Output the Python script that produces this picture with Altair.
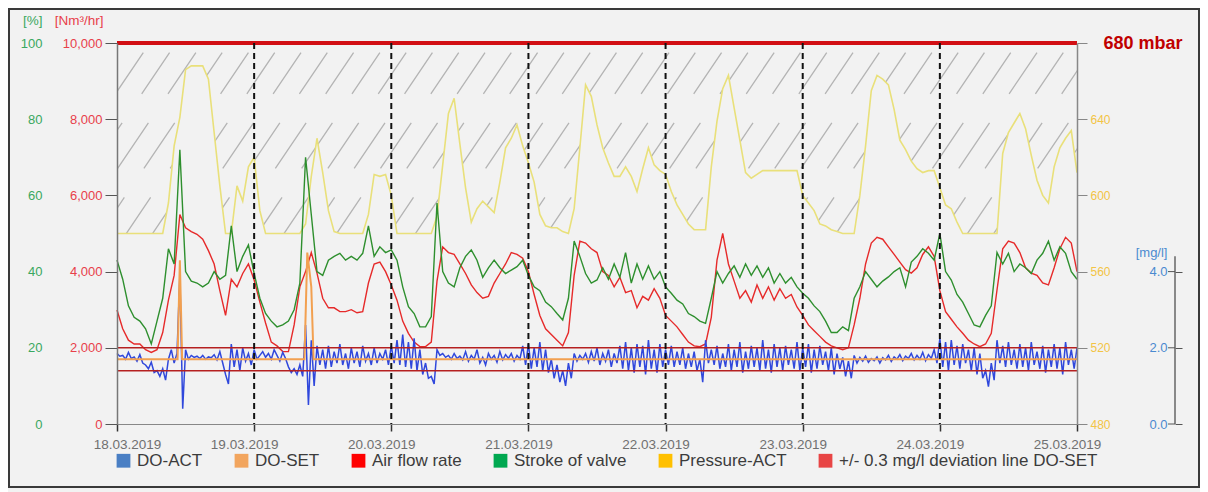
import altair as alt
import pandas as pd

BG = "#f2f2f2"
START = pd.Timestamp("2019-03-18T00:00:00")

# ---------------- data ----------------
# hourly samples 18.03.2019 00:00 ... 25.03.2019 00:00
pressure_mbar = [
    580, 580, 580, 580, 580, 580, 580, 580, 580, 596, 626, 641, 666, 668, 668, 668, 661, 633, 605, 580, 580, 605, 597, 615,
    620, 592, 580, 580, 580, 580, 580, 580, 580, 585, 610, 630, 612, 592, 581, 580, 580, 580, 580, 580, 590, 611, 610, 611,
    600, 580, 580, 580, 580, 580, 580, 580, 589, 616, 643, 651, 627, 604, 586, 593, 597, 594, 591, 607, 625, 630, 637, 626,
    617, 607, 590, 584, 583, 583, 581, 580, 593, 625, 658, 652, 637, 625, 617, 610, 610, 615, 610, 602, 614, 625, 616, 613,
    611, 602, 595, 590, 585, 582, 582, 582, 615, 639, 656, 663, 646, 629, 612, 609, 611, 613, 613, 613, 613, 613, 613, 613,
    600, 596, 592, 585, 584, 582, 581, 580, 580, 580, 600, 626, 655, 663, 661, 658, 645, 629, 624, 618, 614, 612, 613, 613,
    604, 595, 593, 586, 580, 580, 580, 580, 580, 580, 580, 622, 633, 638, 643, 635, 621, 608, 600, 596, 615, 625, 630, 634, 612,
]
air_flow = [
    2993, 2500, 2200, 2100, 2100, 1950, 1880, 1950, 2400, 3250, 3900, 5500, 5150, 5050, 4980, 4850, 4550, 4200, 3500, 2850, 3800, 3600, 3950, 4200,
    3780, 3200, 2650, 2150, 2050, 1900, 1900, 2600, 3600, 4000, 4500, 3960, 3300, 3050, 3050, 2950, 2950, 3000, 2920, 2950, 3700, 4200, 4250, 4000,
    3650, 3250, 2700, 2380, 2150, 2030, 2030, 2150, 3750, 4650, 4500, 4450, 4200, 3950, 3650, 3450, 3300, 3350, 3700, 3950, 4200, 4500, 4450, 4350,
    4000, 3400, 2850, 2500, 2350, 2200, 2050, 2400, 3900, 4800, 4750, 4600, 4500, 4000, 3900, 3600, 3850, 3450, 3500, 3050, 3350, 3250, 3550, 3300,
    2850, 2700, 2550, 2350, 2150, 2050, 2030, 2100, 2800, 4300, 5000, 4200, 3750, 3300, 3500, 3200, 3650, 3300, 3600, 3250, 3550, 3300, 3400, 3071,
    2850, 2600, 2450, 2300, 2150, 2050, 2000, 1950, 2000, 2600, 3300, 4200, 4750, 4900, 4850, 4650, 4450, 4250, 4050, 3960, 4100, 4450, 4650, 4400,
    3500, 2950, 2750, 2550, 2380, 2200, 2100, 2030, 2100, 2380, 3517, 4600, 4800, 4750, 4500, 4100, 3960, 3900, 3700, 3650, 4100, 4600, 4900, 4750, 4000,
]
valve_stroke = [
    43, 38, 31, 28, 27, 25, 21, 27, 33, 46, 42, 72, 40, 37.5, 37, 36, 37, 40, 38, 39, 52, 40, 44, 47,
    39.5, 33, 29, 27, 25.5, 26, 27, 30, 37, 70, 55, 40, 39, 43, 44, 44.8, 43, 44, 43, 44.8, 52, 44, 46.5, 45,
    45.7, 43, 36, 30.8, 29, 25.5, 25.5, 28.2, 58, 40, 37, 36, 41, 44, 45.7, 43, 38.5, 41, 43, 41, 39.5, 40.4, 41.3, 43,
    39, 36, 35, 32, 30.8, 29, 27.3, 33, 48, 44, 39.5, 37, 37.8, 41, 38, 42, 38.5, 45, 37, 42, 38, 41.5, 38, 40,
    36, 34.3, 32.5, 31.5, 29, 28.2, 27, 26.4, 33, 40, 37, 39.5, 41.5, 38.5, 42, 39, 41.5, 38.5, 41, 37, 39.5, 37, 38.5, 36,
    34.3, 33, 31, 29.5, 27, 24, 24, 25.5, 24.5, 33, 36, 40, 38, 36, 37.5, 38.6, 40, 41, 36, 42.5, 44, 46, 44.8, 43,
    50, 40, 37.8, 34, 32, 29, 26, 25.5, 28.5, 31, 45, 42, 44.8, 40, 42, 41, 39.5, 43, 44.8, 48, 43, 46.5, 44.8, 40, 38,
]
# half-hourly DO-ACT [mg/l]
do_act = [
    1.85, 1.78, 1.80, 1.70, 1.88, 1.72, 1.76, 1.65, 1.82, 1.60, 1.55, 1.45,
    1.62, 1.35, 1.40, 1.25, 1.45, 1.15, 1.70, 1.95, 1.60, 1.85, 3.90, 0.40,
    1.95, 1.70, 1.80, 1.75, 1.78, 1.72, 1.80, 1.70, 1.76, 1.74, 1.82, 1.68,
    1.90, 1.60, 1.30, 1.05, 2.10, 1.50, 1.95, 1.40, 2.00, 1.65, 1.85, 1.55,
    1.95, 1.70, 1.80, 1.90, 1.75, 1.85, 1.70, 1.95, 1.80, 1.65, 1.88, 1.72,
    1.50, 1.35, 1.45, 1.30, 1.55, 1.25, 2.60, 0.50, 2.20, 1.00, 2.05, 1.55,
    1.95, 1.45, 2.05, 1.50, 1.90, 1.60, 2.10, 1.55, 1.85, 1.45, 2.00, 1.60,
    1.90, 1.50, 2.05, 1.65, 1.85, 1.55, 2.00, 1.60, 1.85, 1.70, 1.95, 1.55,
    2.05, 1.60, 2.20, 1.55, 2.35, 1.50, 2.15, 1.45, 2.25, 1.40, 1.95, 1.30,
    1.60, 1.20, 1.25, 1.05, 1.95, 1.80, 1.85, 1.75, 1.80, 1.70, 1.85, 1.72,
    1.78, 1.68, 1.90, 1.65, 1.80, 1.70, 1.95, 1.60, 1.75, 1.55, 1.85, 1.70,
    1.80, 1.62, 1.90, 1.68, 1.82, 1.72, 1.85, 1.65, 1.80, 1.70, 2.05, 1.55,
    2.10, 1.45, 2.00, 1.50, 2.15, 1.40, 1.95, 1.35, 1.70, 1.20, 1.55, 1.10,
    1.40, 1.00, 1.60, 1.20, 1.85, 1.65, 1.80, 1.70, 1.85, 1.62, 1.90, 1.65,
    2.00, 1.55, 1.85, 1.65, 1.95, 1.50, 1.85, 1.60, 2.05, 1.45, 2.15, 1.40,
    2.00, 1.35, 2.10, 1.50, 2.05, 1.30, 2.20, 1.45, 1.95, 1.35, 2.10, 1.50,
    1.95, 1.55, 2.05, 1.50, 1.90, 1.55, 2.00, 1.45, 1.85, 1.50, 1.90, 1.40,
    1.70, 1.10, 2.20, 1.60, 1.95, 1.55, 2.05, 1.45, 1.85, 1.50, 2.10, 1.40,
    1.95, 1.50, 2.15, 1.35, 1.90, 1.45, 2.05, 1.50, 2.00, 1.40, 2.20, 1.45,
    1.95, 1.35, 2.10, 1.50, 2.00, 1.40, 2.05, 1.55, 1.95, 1.45, 2.15, 1.40,
    2.00, 1.50, 2.10, 1.35, 1.95, 1.45, 2.05, 1.55, 1.90, 1.40, 2.00, 1.30,
    1.85, 1.45, 1.75, 1.25, 1.65, 1.20, 1.80, 1.60, 1.75, 1.65, 1.78, 1.62,
    1.72, 1.66, 1.76, 1.60, 1.74, 1.68, 1.80, 1.64, 1.76, 1.70, 1.82, 1.66,
    1.78, 1.72, 1.85, 1.68, 1.80, 1.70, 1.88, 1.66, 1.82, 1.72, 1.95, 1.60,
    2.25, 1.50, 2.15, 1.40, 2.20, 1.55, 2.05, 1.45, 2.10, 1.60, 1.95, 1.40,
    2.00, 1.30, 1.85, 1.20, 1.40, 0.98, 1.60, 1.15, 2.20, 1.60, 2.05, 1.50,
    2.15, 1.55, 1.95, 1.45, 2.10, 1.50, 2.00, 1.40, 2.15, 1.55, 1.90, 1.45,
    2.05, 1.35, 1.95, 1.50, 2.10, 1.45, 2.00, 1.30, 2.15, 1.55, 1.95, 1.45,
    2.00,
]
do_set_hours = [0, 10.6, 11.0, 11.4, 32.8, 33.3, 34.0, 34.4, 168]
do_set_vals = [1.7, 1.7, 4.3, 1.7, 1.7, 4.5, 3.6, 1.7, 1.7]
dev_lines = [1.4, 2.0]
pressure_max = [680]
day_lines = ["2019-03-19T00:00:00", "2019-03-20T00:00:00", "2019-03-21T00:00:00",
             "2019-03-22T00:00:00", "2019-03-23T00:00:00", "2019-03-24T00:00:00"]
x_tick_days = [18, 19, 20, 21, 22, 23, 24, 25]
flow_ticks = [0, 2000, 4000, 6000, 8000, 10000]
pct_ticks = [0, 20, 40, 60, 80, 100]
pressure_ticks = [480, 520, 560, 600, 640, 680]
do_ticks = [0, 2, 4]
do_axis_span = [0, 4.4]
legend_names = ["DO-ACT", "DO-SET", "Air flow rate", "Stroke of valve", "Pressure-ACT",
                "+/- 0.3 mg/l deviation line DO-SET"]
legend_colors = ["#4a7fc4", "#f2a55e", "#ff0000", "#00a850", "#ffc000", "#e84545"]


def ts(hours):
    return (START + pd.to_timedelta(hours, unit="h")).strftime("%Y-%m-%dT%H:%M:%S")


hourly = pd.DataFrame({
    "t": [ts(h) for h in range(len(pressure_mbar))],
    "pressure": pressure_mbar,
    "flow": air_flow,
    "stroke": valve_stroke,
})
do_df = pd.DataFrame({"t": [ts(0.5 * i) for i in range(len(do_act))], "do": do_act})
doset_df = pd.DataFrame({"t": [ts(h) for h in do_set_hours], "do": do_set_vals})
dev_df = pd.DataFrame({"do": dev_lines})
days_df = pd.DataFrame({"t": day_lines})
pmax_df = pd.DataFrame({"p": pressure_max})
doaxis_df = pd.DataFrame({"lo": [do_axis_span[0]], "hi": [do_axis_span[1]]})
doticks_df = pd.DataFrame({"do": do_ticks})
legend_df = pd.DataFrame({"series": legend_names})
frame_df = pd.DataFrame({"k": [0]})

# diagonal hatching (decoration) above the pressure curve
HATCH_STEP = 4.6
HATCH_RUN = 22.5
hatch_starts = [-HATCH_RUN + HATCH_STEP * k for k in range(int((168 + HATCH_RUN) / HATCH_STEP) + 2)]
hatch_df = pd.DataFrame({
    "t1": [ts(h) for h in hatch_starts],
    "t2": [ts(h + HATCH_RUN) for h in hatch_starts],
    "p1": [575] * len(hatch_starts),
    "p2": [675] * len(hatch_starts),
})

# ---------------- scales & axes ----------------
X_SCALE = alt.Scale(domain=[alt.DateTime(year=2019, month=3, date=18),
                            alt.DateTime(year=2019, month=3, date=25)])
X_AXIS = alt.Axis(
    values=[alt.DateTime(year=2019, month=3, date=d) for d in x_tick_days],
    format="%d.%m.%Y", title=None, grid=False, labelFlush=False,
    tickSize=7, tickColor="#333333", tickWidth=1.5,
    domainColor="#888888", domainWidth=1.2,
    labelColor="#707070", labelFontSize=13.5, labelPadding=6,
    labelOffset={"condition": {"test": "datum.index == 0", "value": 10}, "value": -10},
    zindex=1,
)


def X(field):
    return alt.X(f"{field}:T", scale=X_SCALE, axis=X_AXIS)


def P_SCALE():
    return alt.Scale(domain=[480, 680], nice=False, zero=False)


def D_SCALE():
    return alt.Scale(domain=[0, 10], nice=False)


F_SCALE = alt.Scale(domain=[0, 10000], nice=False)
G_SCALE = alt.Scale(domain=[0, 100], nice=False)

P_AXIS = alt.Axis(
    orient="right", values=pressure_ticks, title=None, grid=False,
    domainColor="#888888", domainWidth=1.5, tickColor="#888888", tickSize=10,
    labelExpr="datum.value == 680 ? '680 mbar' : datum.label",
    labelColor={"condition": {"test": "datum.value == 680", "value": "#c00000"}, "value": "#f3c445"},
    labelFontSize={"condition": {"test": "datum.value == 680", "value": 18}, "value": 12},
    labelFontWeight={"condition": {"test": "datum.value == 680", "value": "bold"}, "value": "normal"},
    labelPadding={"condition": {"test": "datum.value == 680", "value": 16}, "value": 3},
    zindex=1,
)
F_AXIS = alt.Axis(
    orient="left", values=flow_ticks, format=",d", grid=False,
    title="[Nm³/hr]", titleAngle=0, titleAlign="right", titleBaseline="middle",
    titleX=-14, titleY=-23, titleColor="#e8404a", titleFontSize=13.5, titleFontWeight="normal",
    labelColor="#e8404a", labelFontSize=13, labelPadding=3,
    tickSize=12, tickColor="#555555", domainColor="#777777", domainWidth=1.5,
    zindex=1,
)
G_AXIS = alt.Axis(
    orient="left", offset=75, values=pct_ticks, grid=False, domain=False, ticks=False,
    labelPadding=0, labelColor="#3aa860", labelFontSize=13,
    title="[%]", titleAngle=0, titleAlign="right", titleBaseline="middle",
    titleX=0, titleY=-23, titleColor="#3aa860", titleFontSize=13.5, titleFontWeight="normal",
)
D_AXIS = alt.Axis(
    orient="right", offset=98, values=do_ticks, format=".1f", grid=False, domain=False,
    tickSize=7, tickColor="#555555", labelAlign="right", labelPadding=-15,
    labelColor="#4a8ad0", labelFontSize=13,
    title="[mg/l]", titleAngle=0, titleAlign="right", titleBaseline="middle",
    titleX=-8, titleY=209, titleColor="#4a8ad0", titleFontSize=13, titleFontWeight="normal",
)

# ---------------- layers ----------------
hatch = alt.Chart(hatch_df).mark_rule(
    clip=True, color="#b4b4b4", strokeWidth=1.3, strokeDash=[55, 35]
).encode(x=X("t1"), x2="t2:T", y=alt.Y("p1:Q", scale=P_SCALE(), axis=None), y2="p2:Q")

mask = alt.Chart(hourly).mark_area(color=BG, opacity=1).encode(
    x=X("t"), y=alt.Y("pressure:Q", scale=P_SCALE(), axis=None), y2=alt.datum(480)
)
yellow = alt.Chart(hourly).mark_line(color="#e9e07a", strokeWidth=1.6).encode(
    x=X("t"), y=alt.Y("pressure:Q", scale=P_SCALE(), axis=P_AXIS)
)
top_rule = alt.Chart(pmax_df).mark_rule(color="#d20f14", strokeWidth=4).encode(
    y=alt.Y("p:Q", scale=P_SCALE(), axis=None)
)

red = alt.Chart(hourly).mark_line(color="#e62a2a", strokeWidth=1.4).encode(
    x=X("t"), y=alt.Y("flow:Q", scale=F_SCALE, axis=F_AXIS)
)
green = alt.Chart(hourly).mark_line(color="#2e8f2e", strokeWidth=1.4).encode(
    x=X("t"), y=alt.Y("stroke:Q", scale=G_SCALE, axis=G_AXIS)
)

blue = alt.Chart(do_df).mark_line(color="#3048dc", strokeWidth=1.5).encode(
    x=X("t"), y=alt.Y("do:Q", scale=D_SCALE(), axis=D_AXIS)
)
doset = alt.Chart(doset_df).mark_line(color="#f2a050", strokeWidth=2).encode(
    x=X("t"), y=alt.Y("do:Q", scale=D_SCALE(), axis=None)
)
dev = alt.Chart(dev_df).mark_rule(color="#b52020", strokeWidth=1.5).encode(
    y=alt.Y("do:Q", scale=D_SCALE(), axis=None)
)
do_axis_line = alt.Chart(doaxis_df).mark_rule(color="#666666", strokeWidth=1.5).encode(
    x=alt.value(1058), y=alt.Y("lo:Q", scale=D_SCALE(), axis=None), y2="hi:Q"
)
do_axis_ticks = alt.Chart(doticks_df).mark_rule(color="#555555", strokeWidth=1).encode(
    x=alt.value(1051), x2=alt.value(1058), y=alt.Y("do:Q", scale=D_SCALE(), axis=None)
)

dashed = alt.Chart(days_df).mark_rule(color="#111111", strokeWidth=2, strokeDash=[6, 4]).encode(
    x=X("t")
)

legend_layer = alt.Chart(legend_df).mark_square(opacity=0, size=10).encode(
    color=alt.Color(
        "series:N",
        scale=alt.Scale(domain=legend_names, range=legend_colors),
        legend=alt.Legend(
            orient="none", legendX=-2, legendY=409, direction="horizontal", title=None,
            symbolType="square", symbolSize=190, symbolOpacity=1, symbolStrokeWidth=0,
            labelFontSize=17, labelColor="#3c3c3c", columnPadding=30, labelOffset=5,
            labelLimit=0,
        ),
    )
)

frame = alt.Chart(frame_df).mark_rect(fillOpacity=0, stroke="#3a3a3a", strokeWidth=2).encode(
    x=alt.value(-108), x2=alt.value(1082), y=alt.value(-34), y2=alt.value(444)
)

chart = alt.layer(
    hatch, mask, yellow, top_rule, red, green,
    blue, doset, dev, do_axis_line, do_axis_ticks,
    dashed, legend_layer, frame,
).resolve_scale(
    y="independent", color="independent"
).properties(
    width=960, height=381,
    padding={"left": 109, "top": 35, "right": 123, "bottom": 68},
    autosize=alt.AutoSizeParams(type="none"),
).configure(
    font="Liberation Sans", background=BG
).configure_view(
    fill=BG, strokeWidth=0
)

chart.save("out.html", embed_options={"renderer": "svg", "actions": False})
